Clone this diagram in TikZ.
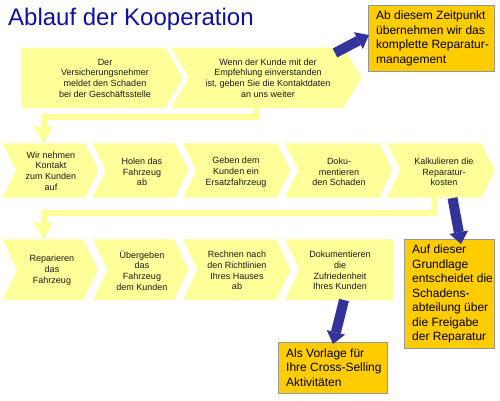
\documentclass[tikz,border=0pt]{standalone}
\usepackage{fontspec}
\setmainfont{Liberation Sans}
\usetikzlibrary{arrows.meta}
\definecolor{chevyellow}{RGB}{255,255,153}
\definecolor{boxorange}{RGB}{255,204,0}
\definecolor{boxborder}{RGB}{150,150,150}
\definecolor{arrowblue}{RGB}{51,51,153}
\definecolor{titleblue}{RGB}{16,16,160}
\begin{document}
\begin{tikzpicture}[x=1pt,y=-1pt,
  chev/.style={fill=chevyellow},
  chevtext/.style={font=\fontsize{9}{10.7}\selectfont, text=black!90, align=center, inner sep=0pt},
  obox/.style={fill=boxorange, draw=boxborder, line width=1.2pt, inner sep=0pt},
  otext/.style={font=\fontsize{12}{14.5}\selectfont, text=black, align=left, inner sep=0pt, anchor=west},
  yconn/.style={draw=chevyellow, line width=6pt, line join=miter,
    -{Triangle[width=20pt,length=17pt,line width=0pt]}},
  barrow/.style={draw=arrowblue, line width=10pt,
    -{Triangle[width=19pt,length=12pt,line width=0pt]}}
]
\useasboundingbox (0,0) rectangle (500,400);

% title
\node[anchor=base west, inner sep=0pt, font=\fontsize{24}{28}\selectfont, text=titleblue] (title) at (8,25) {Ablauf der Kooperation};

% ---------- row 1 ----------
\fill[chev] (21,47.5) -- (165,47.5) -- (183,77.75) -- (165,108) -- (21,108) -- cycle;
\fill[chev] (171,47.5) -- (343,47.5) -- (362,77.75) -- (343,108) -- (171,108) -- (189,77.75) -- cycle;
\node[chevtext] (r1a) at (105,78) {Der\\Versicherungsnehmer\\meldet den Schaden\\bei der Gesch\"aftsstelle};
\node[chevtext] (r1b) at (268,78) {Wenn der Kunde mit der\\Empfehlung einverstanden\\ist, geben Sie die Kontaktdaten\\an uns weiter};

% ---------- row 2 ----------
\fill[chev] (2.5,143.3) -- (85,143.3) -- (98.5,170.4) -- (85,197.5) -- (2.5,197.5) -- (16,170.4) -- cycle;
\fill[chev] (92.5,143.3) -- (175,143.3) -- (188.5,170.4) -- (175,197.5) -- (92.5,197.5) -- (106,170.4) -- cycle;
\fill[chev] (183,143.3) -- (277,143.3) -- (290.5,170.4) -- (277,197.5) -- (183,197.5) -- (196.5,170.4) -- cycle;
\fill[chev] (285,143.3) -- (379,143.3) -- (392.5,170.4) -- (379,197.5) -- (285,197.5) -- (298.5,170.4) -- cycle;
\fill[chev] (387,143.3) -- (481.5,143.3) -- (495,170.4) -- (481.5,197.5) -- (387,197.5) -- (400.5,170.4) -- cycle;
\node[chevtext] (r2a) at (51,171) {Wir nehmen\\Kontakt\\zum Kunden\\auf};
\node[chevtext] (r2b) at (142,172) {Holen das\\Fahrzeug\\ab};
\node[chevtext] (r2c) at (236,172) {Geben dem\\Kunden ein\\Ersatzfahrzeug};
\node[chevtext] (r2d) at (339,172) {Doku-\\mentieren\\den Schaden};
\node[chevtext] (r2e) at (444,172) {Kalkulieren die\\Reparatur-\\kosten};

% ---------- row 3 ----------
\fill[chev] (2.5,239.3) -- (83,239.3) -- (98,269.65) -- (83,300) -- (2.5,300) -- (17,269.65) -- cycle;
\fill[chev] (93,239.3) -- (174,239.3) -- (188.5,269.65) -- (174,300) -- (93,300) -- (107.5,269.65) -- cycle;
\fill[chev] (183,239.3) -- (276,239.3) -- (290.5,269.65) -- (276,300) -- (183,300) -- (197.5,269.65) -- cycle;
\fill[chev] (285,239.3) -- (393,239.3) -- (393,300) -- (285,300) -- (299.5,269.65) -- cycle;
\node[chevtext] (r3a) at (52,270) {Reparieren\\das\\Fahrzeug};
\node[chevtext] (r3b) at (142,270.5) {\"Ubergeben\\das\\Fahrzeug\\dem Kunden};
\node[chevtext] (r3c) at (237,270.5) {Rechnen nach\\den Richtlinien\\Ihres Hauses\\ab};
\node[chevtext] (r3d) at (340,270.5) {Dokumentieren\\die\\Zufriedenheit\\Ihres Kunden};

% ---------- yellow connectors ----------
\coordinate (k1s) at (256,107);
\coordinate (k1e) at (43.5,143.5);
\draw[yconn] (k1s) -- ++(0,9.5) -| (k1e);
\coordinate (k2s) at (434,197);
\coordinate (k2e) at (43.5,239.5);
\draw[yconn] (k2s) -- ++(0,16) -| (k2e);

% ---------- orange boxes ----------
\node[obox, anchor=north west, minimum width=126pt, minimum height=66pt] (b1) at (368,5) {};
\node[otext] (b1t) at (376,38.5) {Ab diesem Zeitpunkt\\\"ubernehmen wir das\\komplette Reparatur-\\management};
\node[obox, anchor=north west, minimum width=90pt, minimum height=109pt] (b2) at (404,239) {};
\node[otext] (b2t) at (412,294) {Auf dieser\\Grundlage\\entscheidet die\\Schadens-\\abteilung \"uber\\die Freigabe\\der Reparatur};
\node[obox, anchor=north west, minimum width=109pt, minimum height=51pt] (b3) at (278,342) {};
\node[otext] (b3t) at (286,367.5) {Als Vorlage f\"ur\\Ihre Cross-Selling\\Aktivit\"aten};

% ---------- blue arrows ----------
\coordinate (a1s) at (335,53);
\coordinate (a1e) at (369,35);
\draw[barrow] (a1s) -- (a1e);
\coordinate (a2s) at (452.5,198);
\coordinate (a2e) at (461,244);
\draw[barrow] (a2s) -- (a2e);
\coordinate (a3s) at (344,300);
\coordinate (a3e) at (333,344);
\draw[barrow] (a3s) -- (a3e);
\end{tikzpicture}
\end{document}
